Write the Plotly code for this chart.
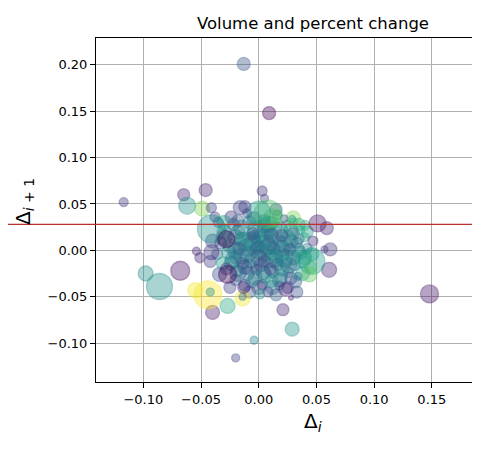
import plotly.graph_objects as go
from plotly.colors import sample_colorscale

# daily returns: delta_i (x) vs delta_{i+1} (y), close price -> colour, volume (M) -> size
delta_i = [
    -0.020, -0.010, 0.000, 0.010, 0.020, 0.028, -0.015, 0.002, 0.014, -0.008,
    0.004, 0.014, 0.026, -0.024, -0.030, 0.034, 0.040, 0.018, 0.000, -0.012,
    0.025, 0.032, -0.034, 0.008, -0.004, 0.028, 0.042, 0.046, -0.040, -0.042,
    0.015, -0.016, 0.033, -0.025, 0.012, 0.022, -0.006, 0.006, -0.018, 0.030,
    -0.030, -0.022, -0.015, -0.008, -0.002, 0.005, 0.012, 0.018, 0.024, 0.030, 0.036,
    -0.033, -0.020, -0.012, -0.004, 0.004, 0.011, 0.018, 0.025, 0.033, 0.040,
    -0.036, -0.026, -0.017, -0.009, -0.001, 0.006, 0.013, 0.020, 0.027, 0.035, 0.042,
    -0.031, -0.022, -0.014, -0.006, 0.002, 0.009, 0.016, 0.023, 0.031, 0.038,
    -0.019, -0.010, -0.002, 0.005, 0.012, 0.019, 0.026,
    -0.006, 0.003, 0.011, 0.018, -0.020,
    -0.035, -0.024, -0.010, 0.016, 0.022, 0.040, 0.030, 0.045, -0.038,
    -0.025, -0.015, -0.005, 0.008, 0.015, 0.022, 0.030, -0.028, -0.012, 0.000,
    0.010, 0.020, 0.028, -0.018, -0.005, 0.008, 0.020, 0.035, -0.008, 0.008,
    0.015, -0.003, 0.005, -0.020, 0.038, 0.035, -0.030, 0.012, 0.005, -0.018,
    -0.013, 0.009, 0.201, 0.148, -0.117, -0.020, -0.004, -0.098, -0.086, 0.029,
    -0.068, -0.040, -0.027, -0.044, -0.055, -0.042, -0.014, -0.014, 0.021, 0.028,
    -0.065, -0.046, -0.062, -0.049, 0.003, 0.005, 0.051, 0.059, 0.047, 0.062, 0.057,
    0.061, 0.046, 0.044, 0.034, 0.029, -0.041, 0.008, 0.000, -0.013, 0.001, 0.023,
    -0.054, -0.051, -0.041, -0.041, -0.012, -0.028, -0.027,
]
delta_next = [
    0.000, 0.003, 0.000, 0.008, 0.002, 0.010, 0.012, 0.018, 0.024, -0.018,
    -0.024, -0.010, -0.016, -0.014, 0.014, 0.000, -0.008, -0.032, -0.040, -0.038,
    -0.040, -0.034, -0.026, 0.028, 0.034, 0.022, 0.020, -0.004, 0.010, -0.012,
    0.044, 0.046, -0.045, -0.040, -0.040, -0.008, 0.010, 0.006, -0.025, 0.035,
    0.020, 0.028, 0.024, 0.030, 0.022, 0.026, 0.030, 0.022, 0.027, 0.018, 0.022,
    0.008, 0.014, 0.010, 0.015, 0.012, 0.016, 0.010, 0.013, 0.008, 0.014,
    -0.004, -0.002, 0.002, -0.004, 0.003, -0.002, 0.002, -0.004, 0.001, -0.003, 0.002,
    -0.014, -0.010, -0.014, -0.011, -0.016, -0.010, -0.015, -0.012, -0.016, -0.010,
    -0.022, -0.025, -0.021, -0.027, -0.023, -0.028, -0.024,
    -0.034, -0.037, -0.033, -0.038, -0.032,
    0.030, 0.036, 0.040, 0.038, 0.034, 0.027, 0.030, -0.018, 0.036,
    0.005, -0.006, 0.007, 0.004, -0.006, 0.006, -0.008, -0.020, -0.018, -0.008,
    -0.020, -0.020, -0.030, 0.020, 0.018, 0.020, 0.016, 0.012, -0.045, -0.045,
    -0.048, -0.030, -0.012, -0.008, -0.025, 0.028, 0.030, 0.035, 0.032, 0.032,
    0.201, 0.148, -0.002, -0.047, 0.052, -0.116, -0.097, -0.025, -0.039, -0.085,
    -0.022, -0.067, -0.060, -0.048, -0.043, -0.045, -0.052, -0.050, -0.064, -0.051,
    0.060, 0.065, 0.048, 0.045, 0.064, 0.056, 0.029, 0.024, 0.010, 0.001, 0.001,
    -0.021, -0.012, -0.026, -0.028, 0.034, 0.023, 0.039, 0.040, -0.040, -0.047, -0.042,
    -0.001, -0.008, -0.002, 0.046, 0.047, 0.012, -0.026,
]
close = [
    555, 540, 510, 555, 525, 570, 510, 555, 585, 540,
    510, 560, 525, 540, 570, 555, 600, 495, 480, 495,
    480, 510, 495, 555, 510, 570, 585, 600, 495, 480,
    495, 480, 495, 480, 540, 540, 555, 525, 510, 660,
    555, 510, 570, 540, 585, 525, 570, 555, 600, 495, 585,
    495, 540, 585, 510, 570, 504, 555, 585, 525, 600,
    510, 570, 495, 555, 510, 585, 525, 570, 495, 570, 540,
    585, 555, 480, 570, 504, 585, 510, 570, 525, 600,
    570, 525, 486, 570, 510, 585, 540,
    555, 480, 570, 510, 504,
    510, 465, 480, 540, 495, 615, 624, 636, 480,
    540, 525, 540, 525, 540, 530, 545, 480, 495, 500,
    490, 540, 495, 545, 495, 540, 495, 540, 495, 480,
    510, 540, 480, 540, 585, 600, 585, 640, 540, 510,
    500, 420, 456, 435, 465, 480, 555, 570, 570, 570,
    435, 444, 600, 720, 714, 570, 714, 525, 450, 450,
    450, 450, 570, 660, 465, 480, 435, 450, 465, 465, 480,
    450, 585, 645, 540, 585, 570, 636, 585, 450, 570, 450,
    450, 456, 465, 480, 480, 420, 420,
]
volume = [
    8.0, 9.0, 9.0, 8.0, 8.0, 7.0, 7.0, 8.0, 7.0, 8.0,
    7.0, 8.0, 8.0, 7.0, 8.0, 7.0, 7.0, 7.0, 7.0, 6.0,
    6.0, 6.0, 7.0, 8.0, 7.0, 7.0, 6.0, 7.0, 7.0, 6.0,
    6.0, 7.0, 6.0, 6.0, 7.0, 9.0, 9.0, 10.0, 8.0, 7.0,
    7.0, 6.0, 8.0, 6.5, 9.0, 7.0, 6.0, 8.0, 5.0, 6.0, 4.5,
    6.0, 7.5, 9.0, 6.0, 10.0, 7.0, 6.0, 8.0, 5.5, 4.5,
    5.5, 7.0, 6.0, 8.0, 6.5, 9.0, 6.0, 7.5, 6.0, 7.0, 5.0,
    6.5, 8.0, 6.0, 7.5, 6.5, 8.5, 6.0, 7.0, 5.5, 8.0,
    6.0, 7.0, 5.5, 7.5, 6.0, 7.0, 5.0,
    6.0, 5.0, 6.5, 4.5, 5.5,
    5.0, 6.0, 4.5, 5.0, 4.0, 5.0, 4.5, 6.0, 5.0,
    7.0, 8.0, 9.0, 8.0, 7.0, 8.0, 7.0, 6.0, 7.0, 8.0,
    6.0, 7.0, 6.0, 7.0, 6.0, 7.0, 6.0, 5.0, 6.0, 5.0,
    6.0, 7.0, 6.0, 6.0, 7.0, 6.0, 7.0, 9.0, 6.0, 6.0,
    6.5, 6.5, 14.0, 9.0, 4.5, 4.0, 4.0, 7.5, 13.0, 7.0,
    9.5, 7.0, 7.5, 14.0, 7.5, 4.0, 7.5, 3.5, 6.0, 2.5,
    6.0, 6.5, 8.5, 7.5, 5.0, 4.0, 8.5, 6.5, 5.0, 6.5, 3.5,
    7.5, 13.0, 7.5, 4.0, 3.5, 14.0, 14.0, 12.0, 6.0, 5.0, 6.5,
    4.0, 5.0, 7.5, 5.0, 6.0, 8.5, 9.0,
]

title = "Volume and percent change"
level = 0.028

lo, hi = min(close), max(close)
rgb = sample_colorscale("Viridis", [(c - lo) / (hi - lo) for c in close])
fill = [c.replace("rgb(", "rgba(").replace(")", ", 0.55)") for c in rgb]
sizes = [2.0 * v for v in volume]

fig = go.Figure()
fig.add_trace(go.Scatter(
    x=delta_i, y=delta_next, mode="markers",
    marker=dict(size=sizes, color=fill, line=dict(color=fill, width=1.3)),
    showlegend=False, hoverinfo="skip",
))

axis = dict(
    showline=True, linecolor="black", linewidth=1,
    ticks="outside", ticklen=5, tickcolor="black", tickwidth=1,
    showgrid=True, gridcolor="#b0b0b0", gridwidth=1, zeroline=False,
    tickformat=".2f", tickfont=dict(family="DejaVu Sans", size=13, color="black"),
)
fig.update_xaxes(axis, range=[-0.141, 0.1848], mirror=True,
                 tickvals=[-0.10, -0.05, 0.0, 0.05, 0.10, 0.15, 0.20])
fig.update_yaxes(axis, range=[-0.142, 0.229],
                 tickvals=[-0.10, -0.05, 0.0, 0.05, 0.10, 0.15, 0.20])

fig.add_shape(type="line", xref="paper", yref="y", x0=-0.234, x1=1.0,
              y0=level, y1=level, line=dict(color="#b8312a", width=1.2), layer="above")

fig.add_annotation(text="Δ<sub><i>i</i></sub>", xref="paper", yref="paper",
                   x=0.577, y=-0.116, xanchor="center", yanchor="middle", showarrow=False,
                   font=dict(family="DejaVu Sans", size=20, color="black"))
fig.add_annotation(text="Δ<sub><i>i</i> + 1</sub>", xref="paper", yref="paper",
                   x=-0.19, y=0.525, xanchor="center", yanchor="middle",
                   textangle=-90, showarrow=False,
                   font=dict(family="DejaVu Sans", size=20, color="black"))

fig.update_layout(
    width=464, height=434,
    margin=dict(l=88, r=0, t=30, b=60),
    paper_bgcolor="white", plot_bgcolor="white",
    title=dict(text=title, x=305 / 464, xanchor="center", y=1 - 15 / 434, yanchor="middle",
               font=dict(family="DejaVu Sans", size=16.5, color="black")),
)

fig.write_html("out.html")
